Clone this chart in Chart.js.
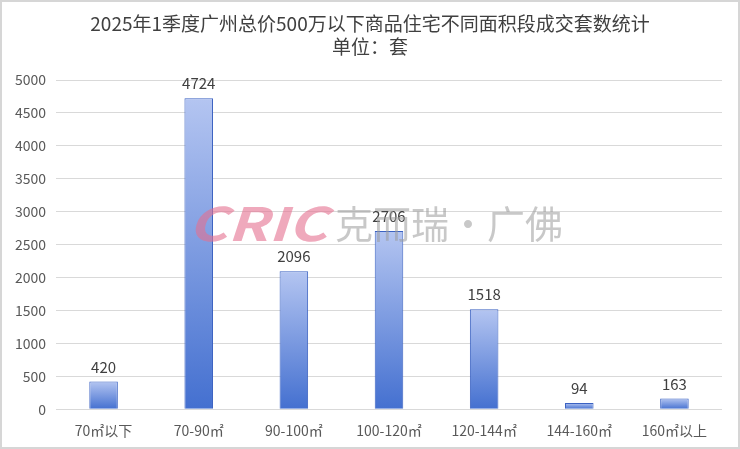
<!DOCTYPE html>
<html>
<head>
<meta charset="utf-8">
<script src="https://cdn.jsdelivr.net/npm/chart.js"></script>
<style>
  html, body { margin: 0; padding: 0; background: #fff; }
  #wrap { width: 740px; height: 449px; box-sizing: border-box; border: 2px solid #d6d6d6; }
  canvas { display: block; }
</style>
</head>
<body>
<div id="wrap"><canvas id="chart" width="736" height="445"></canvas></div>
<script>
// area bands and deals (units)
var categories = ['70㎡以下', '70-90㎡', '90-100㎡', '100-120㎡', '120-144㎡', '144-160㎡', '160㎡以上'];
var deals = [420, 4724, 2096, 2706, 1518, 94, 163];
var titleLines = ['2025年1季度广州总价500万以下商品住宅不同面积段成交套数统计', '单位：套'];

var FONT = '"Microsoft YaHei", "Noto Sans CJK SC", "Noto Sans", sans-serif';

function barGradient(ctx) {
  var chart = ctx.chart;
  var y = chart.scales.y;
  if (!y || ctx.raw == null) return '#7d9be0';
  var top = y.getPixelForValue(ctx.raw), bottom = y.getPixelForValue(0);
  if (!isFinite(top) || !isFinite(bottom) || bottom - top < 1) return '#7d9be0';
  var g = chart.ctx.createLinearGradient(0, top, 0, bottom);
  g.addColorStop(0, '#b4c5f1');
  g.addColorStop(1, '#4470d0');
  return g;
}

// title centred on the whole canvas, not the padded box
var titleDraw = {
  id: 'titleDraw',
  beforeDraw: function (chart) {
    var c = chart.ctx;
    c.save();
    c.font = '19px ' + FONT;
    c.fillStyle = '#404040';
    c.textAlign = 'center';
    c.textBaseline = 'middle';
    c.fillText(titleLines[0], chart.width / 2, 22);
    c.fillText(titleLines[1], chart.width / 2, 45);
    c.restore();
  }
};

var valueLabels = {
  id: 'valueLabels',
  afterDatasetsDraw: function (chart) {
    var c = chart.ctx;
    c.save();
    c.font = '15px ' + FONT;
    c.fillStyle = '#404040';
    c.textAlign = 'center';
    c.textBaseline = 'bottom';
    chart.getDatasetMeta(0).data.forEach(function (bar, i) {
      c.fillText(String(deals[i]), bar.x, bar.y - 7);
    });
    c.restore();
  }
};

var watermark = {
  id: 'watermark',
  afterDraw: function (chart) {
    var c = chart.ctx;
    c.save();
    c.textBaseline = 'middle';
    c.save();
    c.globalAlpha = 0.6;
    c.translate(186, 222);
    c.scale(1.3, 1);
    c.font = 'italic bold 46px ' + FONT;
    c.fillStyle = '#e5708f';
    c.fillText('CRIC', 0, 0);
    c.restore();
    c.globalAlpha = 0.55;
    c.font = '38px ' + FONT;
    c.fillStyle = '#9a9a9a';
    c.fillText('克而瑞·广佛', 333, 222);
    c.restore();
  }
};

new Chart(document.getElementById('chart').getContext('2d'), {
  type: 'bar',
  data: {
    labels: categories,
    datasets: [{
      data: deals,
      backgroundColor: barGradient,
      borderColor: '#3b62c2',
      borderWidth: 1,
      barPercentage: 0.3,
      categoryPercentage: 1
    }]
  },
  options: {
    responsive: false,
    animation: false,
    layout: { padding: { left: 0, right: 16, top: 78, bottom: 3 } },
    plugins: {
      legend: { display: false },
      tooltip: { enabled: false },
      title: { display: false }
    },
    scales: {
      x: {
        grid: { display: false },
        border: { display: false },
        ticks: { color: '#595959', font: { family: FONT, size: 14 }, padding: 5 }
      },
      y: {
        min: 0,
        max: 5000,
        ticks: {
          stepSize: 500, color: '#595959', font: { family: FONT, size: 14 }, padding: 10,
          callback: function (v) { return String(v); }
        },
        grid: { color: '#d9d9d9', drawTicks: false },
        border: { display: false },
        afterFit: function (scale) { scale.width = 54; }
      }
    }
  },
  plugins: [titleDraw, valueLabels, watermark]
});
</script>
</body>
</html>
